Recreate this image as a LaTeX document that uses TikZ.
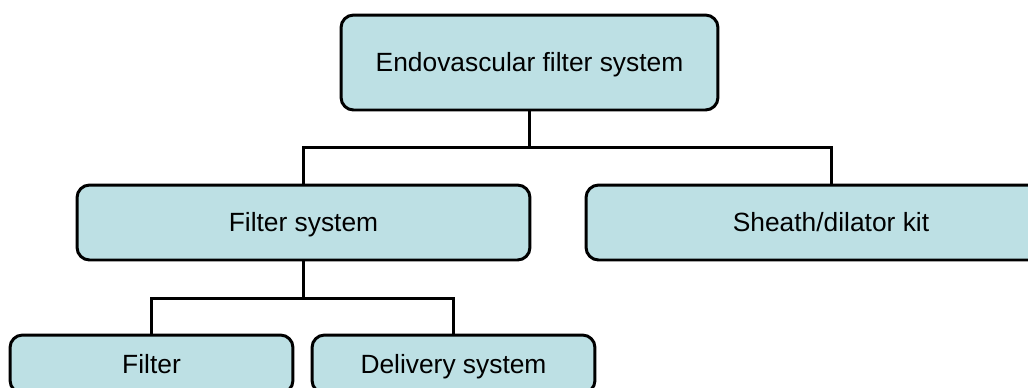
\documentclass[tikz,border=0pt]{standalone}
\usepackage{fontspec}
\setmainfont{Liberation Sans}
\usepackage{xcolor}
\usepackage{tikz}
\usetikzlibrary{positioning,calc}

\definecolor{boxfill}{RGB}{189,224,228}

\begin{document}
\begin{tikzpicture}[x=0.02cm, y=-0.02cm,
    part/.style={draw, fill=boxfill, line width=1.7pt, rounded corners=0.25cm,
                 inner sep=0pt, text height=12.7pt, text depth=2pt,
                 font=\fontsize{15pt}{18pt}\selectfont},
    link/.style={line width=1.7pt}]
  \useasboundingbox (0,0) rectangle (1028,387);
  \clip (0,0) rectangle (1028,387);

  \node(top)[part, minimum width=7.54cm, minimum height=1.9cm]
    at (529.5,62.5) {Endovascular filter system};

  \node(fsys)[part, minimum width=9.06cm, minimum height=1.5cm]
    at (303.5,222.5) {Filter system};
  \node(sheath)[part, minimum width=9.8cm, minimum height=1.5cm]
    at (831,222.5) {Sheath/dilator kit};

  \node(filter)[part, minimum width=5.66cm, minimum height=1.16cm]
    at (151.5,364) {Filter};
  \node(deliv)[part, minimum width=5.66cm, minimum height=1.16cm]
    at (453.5,364) {Delivery system};

  % branch lines
  \coordinate(bus1) at (529.5,147);
  \coordinate(bus2) at (303.5,298);

  \draw[link] (top.south) -- (bus1);
  \draw[link] (fsys.north) |- (bus1) -| (sheath.north);

  \draw[link] (fsys.south) -- (bus2);
  \draw[link] (filter.north) |- (bus2) -| (deliv.north);

\end{tikzpicture}
\end{document}
